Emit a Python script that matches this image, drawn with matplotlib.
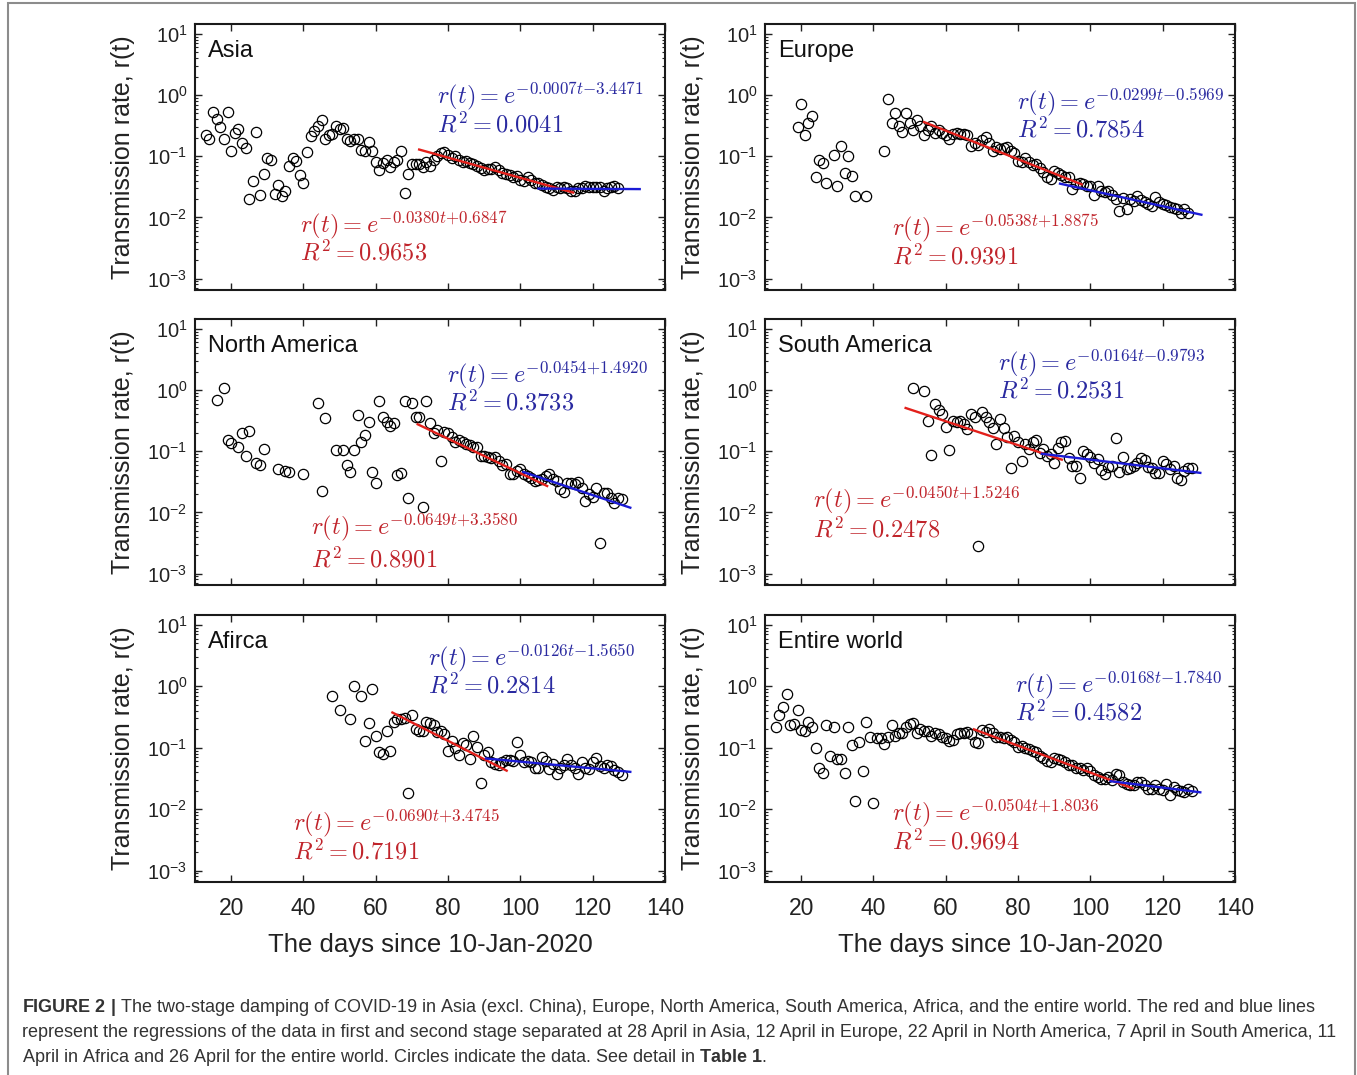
import matplotlib

matplotlib.use("Agg")
import matplotlib.pyplot as plt
import numpy as np
from matplotlib.patches import Rectangle
from matplotlib.ticker import LogLocator, NullFormatter

plt.rcParams["font.family"] = ["Liberation Sans", "DejaVu Sans"]
plt.rcParams["mathtext.fontset"] = "custom"
plt.rcParams["mathtext.rm"] = "Liberation Sans"
plt.rcParams["mathtext.it"] = "Liberation Sans:italic"
plt.rcParams["mathtext.bf"] = "Liberation Sans:bold"

# ---- data: days since 10-Jan-2020, transmission rate r(t) ----
REGIONS = ["Asia", "Europe", "North America", "South America", "Afirca", "Entire world"]

ASIA_DAYS = np.arange(13, 128)
ASIA_R = [
    0.226, 0.19, 0.52, 0.41, 0.295, 0.188, 0.52, 0.121, 0.241, 0.274,
    0.166, 0.134, 0.020, 0.039, 0.251, 0.023, 0.052, 0.095, 0.088, 0.024,
    0.034, 0.022, 0.027, 0.069, 0.094, 0.083, 0.049, 0.036, 0.116, 0.215,
    0.257, 0.31, 0.39, 0.19, 0.221, 0.235, 0.31, 0.277, 0.284, 0.188,
    0.178, 0.19, 0.19, 0.125, 0.121, 0.168, 0.121, 0.079, 0.060, 0.078,
    0.086, 0.067, 0.081, 0.086, 0.122, 0.025, 0.051, 0.074, 0.074, 0.076,
    0.067, 0.079, 0.070, 0.086, 0.100, 0.111, 0.116, 0.103, 0.092, 0.100,
    0.086, 0.079, 0.083, 0.078, 0.074, 0.069, 0.063, 0.059, 0.062, 0.061,
    0.067, 0.059, 0.054, 0.051, 0.050, 0.046, 0.047, 0.041, 0.040, 0.046,
    0.041, 0.037, 0.036, 0.034, 0.031, 0.030, 0.028, 0.031, 0.030, 0.031,
    0.030, 0.027, 0.027, 0.030, 0.030, 0.033, 0.031, 0.031, 0.031, 0.031,
    0.027, 0.030, 0.031, 0.032, 0.030,
]

EUROPE_DAYS = np.r_[19:28, 29:36, 38, 43:128]
EUROPE_R = [
    0.295, 0.71, 0.226, 0.343, 0.458, 0.046, 0.086, 0.078, 0.037,
    0.104, 0.033, 0.148, 0.054, 0.100, 0.047, 0.0224,
    0.0222,
    0.122, 0.85, 0.343, 0.50, 0.31, 0.251, 0.50, 0.343, 0.267, 0.39,
    0.31, 0.221, 0.267, 0.31, 0.241, 0.267, 0.241, 0.221, 0.188, 0.235,
    0.241, 0.235, 0.23, 0.221, 0.146, 0.166, 0.155, 0.183, 0.207, 0.166,
    0.122, 0.139, 0.129, 0.134, 0.142, 0.122, 0.111, 0.083, 0.079, 0.092,
    0.079, 0.073, 0.074, 0.063, 0.055, 0.046, 0.042, 0.057, 0.053, 0.049,
    0.046, 0.046, 0.0295, 0.0348, 0.0365, 0.0348, 0.033, 0.033, 0.023, 0.033,
    0.027, 0.026, 0.027, 0.0235, 0.0197, 0.0125, 0.0207, 0.0139, 0.0197, 0.0183,
    0.0221, 0.019, 0.0178, 0.0168, 0.0151, 0.0216, 0.0178, 0.0168, 0.0157, 0.0148,
    0.0144, 0.0139, 0.0118, 0.0139, 0.0118,
]

NAMERICA_DAYS = np.r_[16, 18:21, 22:26, 27:30, 33, 35, 36, 40, 44:47, 49, 51, 52:129]
NAMERICA_R = [
    0.69, 1.08, 0.151, 0.134, 0.118, 0.197, 0.085, 0.215, 0.063, 0.059,
    0.108, 0.051, 0.048, 0.046, 0.043, 0.61, 0.0224, 0.348, 0.104, 0.104,
    0.060, 0.046, 0.105, 0.39, 0.139, 0.185, 0.295, 0.046, 0.0306, 0.65,
    0.356, 0.306, 0.26, 0.284, 0.041, 0.0436, 0.65, 0.017, 0.61, 0.366,
    0.356, 0.0124, 0.67, 0.284, 0.202, 0.221, 0.0695, 0.21, 0.197, 0.172,
    0.139, 0.151, 0.139, 0.130, 0.127, 0.118, 0.118, 0.084, 0.084, 0.081,
    0.077, 0.079, 0.0695, 0.060, 0.061, 0.043, 0.042, 0.048, 0.051, 0.043,
    0.0394, 0.037, 0.0327, 0.0335, 0.0348, 0.0394, 0.043, 0.0348, 0.0327, 0.0244,
    0.0218, 0.0306, 0.0306, 0.0288, 0.0314, 0.0247, 0.0153, 0.0197, 0.0178, 0.0254,
    0.0031, 0.021, 0.021, 0.0174, 0.0144, 0.0174, 0.0168,
]

SAMERICA_DAYS = np.r_[51, 54:129]
SAMERICA_R = [
    1.08,
    0.95, 0.314, 0.086, 0.59, 0.476, 0.404, 0.25, 0.105, 0.314, 0.306,
    0.314, 0.277, 0.23, 0.404, 0.356, 0.0028, 0.43, 0.356, 0.295, 0.244,
    0.130, 0.335, 0.238, 0.168, 0.054, 0.178, 0.144, 0.0695, 0.130, 0.108,
    0.139, 0.151, 0.095, 0.108, 0.084, 0.089, 0.063, 0.115, 0.144, 0.148,
    0.077, 0.0575, 0.0575, 0.036, 0.099, 0.089, 0.079, 0.063, 0.074, 0.049,
    0.042, 0.055, 0.0575, 0.163, 0.046, 0.079, 0.051, 0.053, 0.0575, 0.065,
    0.077, 0.071, 0.055, 0.054, 0.0447, 0.0447, 0.0695, 0.061, 0.051, 0.0575,
    0.036, 0.034, 0.048, 0.054, 0.053,
]

AFRICA_DAYS = np.r_[48, 50, 53, 54, 56:129]
AFRICA_R = [
    0.70, 0.414, 0.291, 1.03,
    0.70, 0.129, 0.25, 0.90, 0.157, 0.086, 0.078, 0.188, 0.088, 0.267,
    0.295, 0.295, 0.303, 0.0183, 0.335, 0.202, 0.188, 0.188, 0.267, 0.25,
    0.23, 0.183, 0.188, 0.166, 0.088, 0.129, 0.0975, 0.076, 0.118, 0.111,
    0.065, 0.157, 0.104, 0.027, 0.076, 0.084, 0.059, 0.055, 0.053, 0.0575,
    0.063, 0.063, 0.060, 0.125, 0.076, 0.0575, 0.060, 0.0575, 0.046, 0.047,
    0.071, 0.060, 0.0447, 0.055, 0.037, 0.046, 0.052, 0.065, 0.052, 0.046,
    0.037, 0.0575, 0.046, 0.0447, 0.0575, 0.0686, 0.0507, 0.046, 0.052, 0.0507,
    0.043, 0.0404, 0.0356,
]

WORLD_DAYS = np.arange(13, 129)
WORLD_R = [
    0.221, 0.335, 0.453, 0.75, 0.235, 0.241, 0.414, 0.195, 0.19, 0.26,
    0.221, 0.100, 0.047, 0.039, 0.235, 0.074, 0.221, 0.065, 0.065, 0.039,
    0.221, 0.111, 0.0135, 0.122, 0.0414, 0.26, 0.151, 0.0127, 0.142, 0.146,
    0.113, 0.151, 0.23, 0.157, 0.172, 0.172, 0.221, 0.241, 0.25, 0.176,
    0.202, 0.188, 0.188, 0.157, 0.176, 0.166, 0.151, 0.146, 0.129, 0.134,
    0.166, 0.172, 0.172, 0.178, 0.166, 0.125, 0.118, 0.195, 0.178, 0.202,
    0.172, 0.151, 0.151, 0.142, 0.151, 0.134, 0.125, 0.104, 0.108, 0.0975,
    0.095, 0.088, 0.084, 0.074, 0.067, 0.060, 0.059, 0.0686, 0.065, 0.063,
    0.0575, 0.052, 0.053, 0.046, 0.047, 0.043, 0.047, 0.0414, 0.0365, 0.0335,
    0.0314, 0.0314, 0.0335, 0.0303, 0.038, 0.0356, 0.0277, 0.026, 0.0244, 0.0244,
    0.0277, 0.0277, 0.025, 0.0216, 0.0216, 0.0244, 0.0216, 0.0202, 0.026, 0.0168,
    0.023, 0.0202, 0.0195, 0.019, 0.0216, 0.0197,
]

DAYS = [ASIA_DAYS, EUROPE_DAYS, NAMERICA_DAYS, SAMERICA_DAYS, AFRICA_DAYS, WORLD_DAYS]
RATES = [ASIA_R, EUROPE_R, NAMERICA_R, SAMERICA_R, AFRICA_R, WORLD_R]

# regressions ln r = slope*t + intercept, as printed on each panel
RED_FITS = [(-0.0380, 0.6847), (-0.0538, 1.8875), (-0.0649, 3.3580),
            (-0.0450, 1.5246), (-0.0690, 3.4745), (-0.0504, 1.8036)]
BLUE_FITS = [(-0.0007, -3.4471), (-0.0299, -0.5969), (-0.0454, 1.4920),
             (-0.0164, -0.9793), (-0.0126, -1.5650), (-0.0168, -1.7840)]
RED_SPANS = [(72, 114.6), (54, 97.6), (71.6, 107.4), (48.9, 92.1), (64.6, 96.2), (67.8, 111.6)]
BLUE_SPANS = [(105, 133), (91.6, 130.7), (100.8, 130.4), (86.6, 130.4), (90.5, 130.4), (105.6, 130.4)]

# {-} / {+} keep the exponent tight, like the original TeX labels
RED_EQS = [r"$r(t) = e^{-0.0380t{+}0.6847}$", r"$r(t) = e^{-0.0538t{+}1.8875}$",
           r"$r(t) = e^{-0.0649t{+}3.3580}$", r"$r(t) = e^{-0.0450t{+}1.5246}$",
           r"$r(t) = e^{-0.0690t{+}3.4745}$", r"$r(t) = e^{-0.0504t{+}1.8036}$"]
RED_R2 = ["0.9653", "0.9391", "0.8901", "0.2478", "0.7191", "0.9694"]
BLUE_EQS = [r"$r(t) = e^{-0.0007t{-}3.4471}$", r"$r(t) = e^{-0.0299t{-}0.5969}$",
            r"$r(t) = e^{-0.0454{+}1.4920}$", r"$r(t) = e^{-0.0164t{-}0.9793}$",
            r"$r(t) = e^{-0.0126t{-}1.5650}$", r"$r(t) = e^{-0.0168t{-}1.7840}$"]
BLUE_R2 = ["0.0041", "0.7854", "0.3733", "0.2531", "0.2814", "0.4582"]

# label anchors in axes fraction: (x, y of equation, y of R^2)
RED_POS = [(0.223, 0.244, 0.139), (0.270, 0.233, 0.124), (0.247, 0.218, 0.094),
           (0.102, 0.320, 0.207), (0.209, 0.221, 0.112), (0.270, 0.258, 0.150)]
BLUE_POS = [(0.515, 0.729, 0.620), (0.536, 0.707, 0.602), (0.536, 0.789, 0.684),
            (0.496, 0.835, 0.729), (0.496, 0.839, 0.734), (0.532, 0.738, 0.633)]

CAPTION = [
    r"$\mathbf{FIGURE\ 2\ |}$ The two-stage damping of COVID-19 in Asia (excl. China), Europe, "
    r"North America, South America, Africa, and the entire world. The red and blue lines",
    "represent the regressions of the data in first and second stage separated at 28 April in Asia, "
    "12 April in Europe, 22 April in North America, 7 April in South America, 11",
    r"April in Africa and 26 April for the entire world. Circles indicate the data. "
    r"See detail in $\mathbf{Table\ 1}$.",
]

RED_LINE, BLUE_LINE = "#e3201b", "#1b1bd6"
RED_TEXT, BLUE_TEXT = "#c0242b", "#2a2aa0"

W, H = 1357, 1075
fig = plt.figure(figsize=(W / 100, H / 100), dpi=100)
fig.patch.set_facecolor("white")

col_left = [195, 765]
row_top = [24, 319, 615]
row_bottom = [290, 585, 882]
ax_w = 470

for i, name in enumerate(REGIONS):
    row, col = divmod(i, 2)
    ax = fig.add_axes([col_left[col] / W, 1 - row_bottom[row] / H,
                       ax_w / W, (row_bottom[row] - row_top[row]) / H])
    ax.set_yscale("log")
    ax.plot(DAYS[i], RATES[i], "o", mfc="none", mec="black", ms=7.4, mew=0.9, zorder=2)

    for fits, spans, color in ((RED_FITS, RED_SPANS, RED_LINE), (BLUE_FITS, BLUE_SPANS, BLUE_LINE)):
        slope, intercept = fits[i]
        t = np.array(spans[i])
        ax.plot(t, np.exp(slope * t + intercept), color=color, lw=1.7, zorder=3)

    ax.set_xlim(10, 140)
    ax.set_ylim(6.5e-4, 14.5)
    ax.set_xticks(np.arange(20, 141, 20))
    ax.yaxis.set_major_locator(LogLocator(base=10, numticks=10))
    ax.yaxis.set_minor_locator(LogLocator(base=10, subs=np.arange(2, 10), numticks=10))
    ax.yaxis.set_minor_formatter(NullFormatter())
    ax.tick_params(which="both", direction="in", top=True, right=True, color="#222222")
    ax.tick_params(which="major", length=5, width=1.0)
    ax.tick_params(which="minor", length=2.5, width=0.8)
    ax.tick_params(axis="y", labelsize=14.5, pad=5.5, labelcolor="#222222")
    ax.tick_params(axis="x", labelsize=16.5, pad=11, labelcolor="#222222")
    for spine in ax.spines.values():
        spine.set_linewidth(1.5)
        spine.set_color("#1a1a1a")

    ax.set_ylabel("Transmission rate, r(t)", fontsize=18, color="#222222")
    ax.yaxis.set_label_coords(-0.128, 0.5)
    if row < 2:
        ax.tick_params(axis="x", labelbottom=False)
    else:
        ax.set_xlabel("The days since 10-Jan-2020", fontsize=18.5, color="#222222")
        ax.xaxis.set_label_coords(0.5, -0.19)

    ax.text(0.028, 0.90, name, transform=ax.transAxes, fontsize=17, va="center", color="#111111")

    bx, by1, by2 = BLUE_POS[i]
    ax.text(bx, by1, BLUE_EQS[i], transform=ax.transAxes, fontsize=17.5, color=BLUE_TEXT,
            va="center", math_fontfamily="cm")
    ax.text(bx, by2, r"$R^2 = %s$" % BLUE_R2[i], transform=ax.transAxes, fontsize=17.5,
            color=BLUE_TEXT, va="center", math_fontfamily="cm")
    rx, ry1, ry2 = RED_POS[i]
    ax.text(rx, ry1, RED_EQS[i], transform=ax.transAxes, fontsize=17.5, color=RED_TEXT,
            va="center", math_fontfamily="cm")
    ax.text(rx, ry2, r"$R^2 = %s$" % RED_R2[i], transform=ax.transAxes, fontsize=17.5,
            color=RED_TEXT, va="center", math_fontfamily="cm")

# outer frame around figure + caption
fig.patches.append(Rectangle((8 / W, -0.01), (1355 - 8) / W, 1.01 - 3 / H,
                             transform=fig.transFigure, fill=False, ec="#8c8c8c", lw=1.5))
for k, line in enumerate(CAPTION):
    fig.text(22 / W, 1 - (1012 + 25 * k) / H, line, fontsize=13, color="#333333", va="baseline")

fig.savefig("out.png", dpi=100)
